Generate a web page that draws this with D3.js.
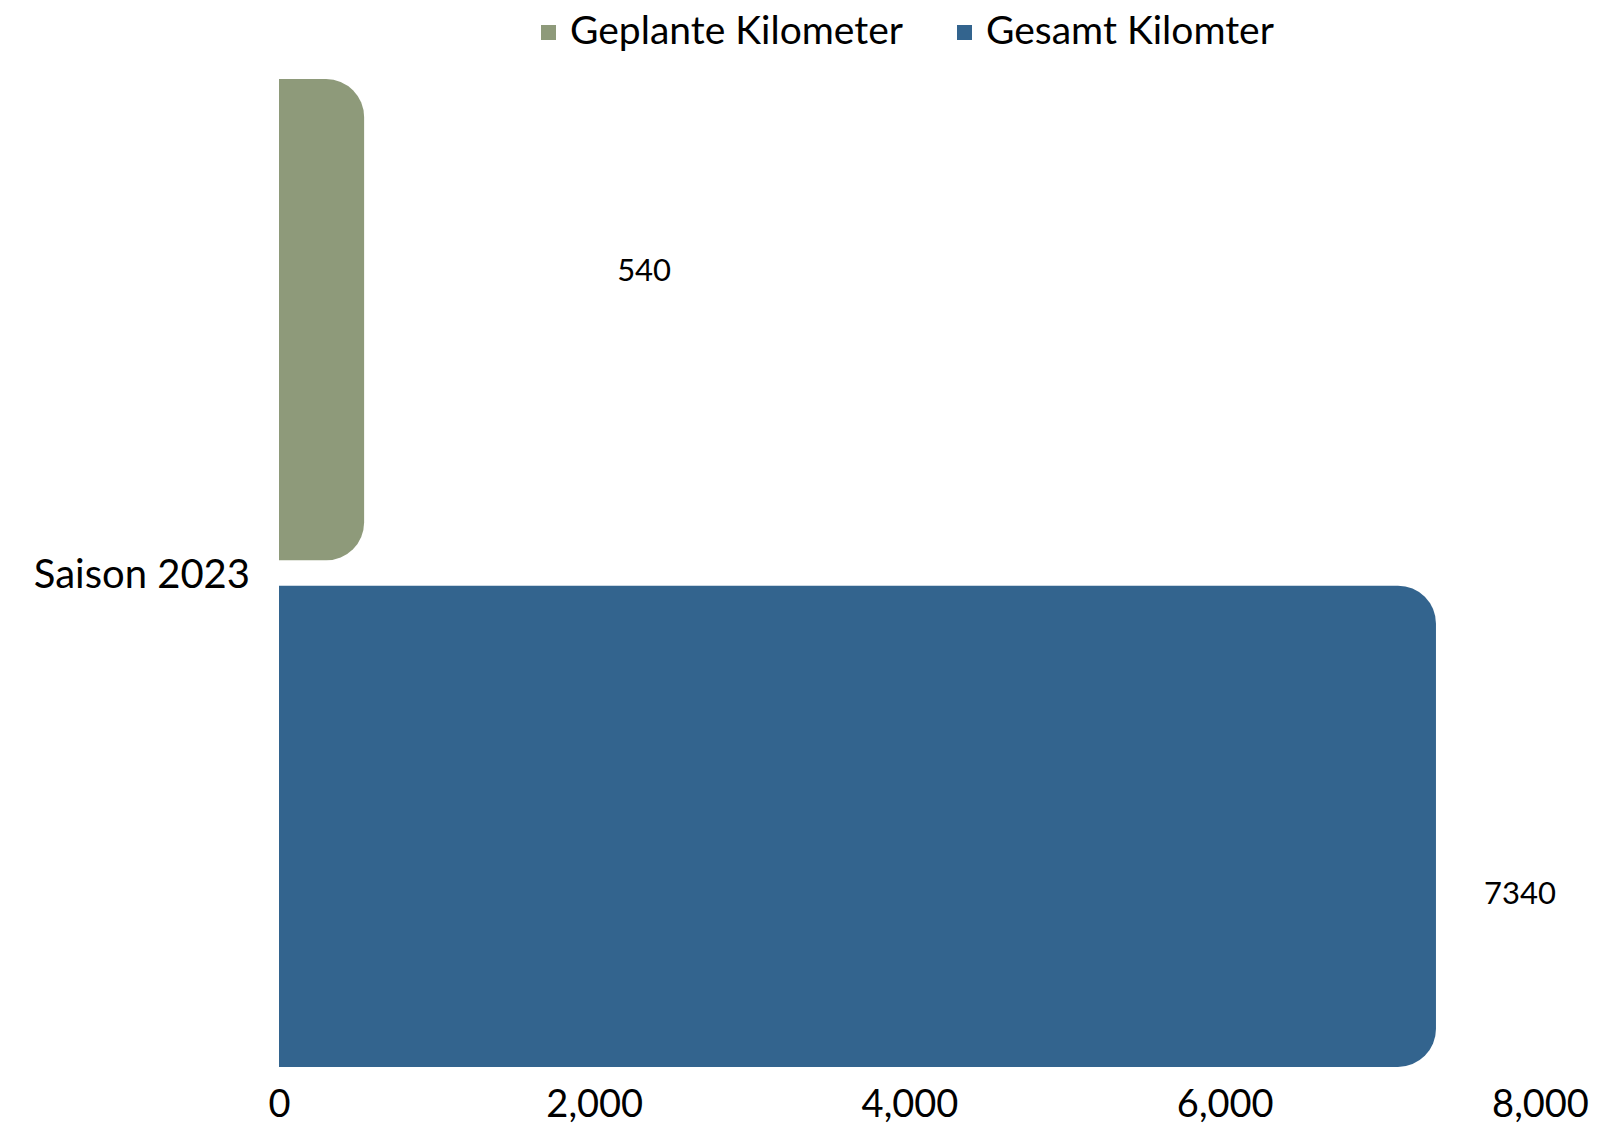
<!DOCTYPE html>
<html>
<head>
<meta charset="utf-8">
<script src="https://cdn.jsdelivr.net/npm/d3@7"></script>
<style>
  html, body { margin: 0; padding: 0; background: #fff; overflow: hidden; }
  svg { display: block; }
  text { font-family: "Lato", "Noto Sans", sans-serif; fill: #000; }
</style>
</head>
<body>
<svg id="chart" width="1614" height="1126"></svg>
<script>
var categories = ["Saison 2023"];
var seriesNames = ["Geplante Kilometer", "Gesamt Kilomter"];
var seriesValues = [540, 7340];
var seriesColors = ["#8e9a7a", "#33648e"];
var xTicks = [0, 2000, 4000, 6000, 8000];

// value labels sit where they were dragged to in the original
var labelDx = [280, 84];
var labelDy = [-39, 78];

var svg = d3.select("#chart");

var x = d3.scaleLinear().domain([0, 8000]).range([279, 1540]);
var y = d3.scaleBand().domain(seriesNames).range([79, 1067]).paddingInner(0.05);

function barPath(x0, x1, y0, h, r) {
  r = Math.min(r, (x1 - x0), h / 2);
  return "M" + x0 + "," + y0 +
    "H" + (x1 - r) +
    "A" + r + "," + r + " 0 0 1 " + x1 + "," + (y0 + r) +
    "V" + (y0 + h - r) +
    "A" + r + "," + r + " 0 0 1 " + (x1 - r) + "," + (y0 + h) +
    "H" + x0 + "Z";
}

svg.selectAll("path.bar")
  .data(seriesValues)
  .enter().append("path")
  .attr("class", "bar")
  .attr("d", function(d, i){ return barPath(x(0), x(d), y(seriesNames[i]), y.bandwidth(), 38); })
  .style("fill", function(d, i){ return seriesColors[i]; });

svg.selectAll("text.val")
  .data(seriesValues)
  .enter().append("text")
  .attr("class", "val")
  .attr("x", function(d, i){ return x(d) + labelDx[i]; })
  .attr("y", function(d, i){ return y(seriesNames[i]) + y.bandwidth() / 2 + labelDy[i]; })
  .attr("text-anchor", "middle")
  .style("font-size", "31px")
  .text(function(d){ return d; });

// x axis, labels only
var axis = svg.append("g")
  .attr("transform", "translate(0,1117)")
  .call(d3.axisBottom(x).tickValues(xTicks).tickSize(0).tickPadding(0).tickFormat(d3.format(",")));
axis.select(".domain").remove();
axis.selectAll("text")
  .attr("dy", 0)
  .attr("y", 0)
  .style("font-family", "Lato, 'Noto Sans', sans-serif")
  .style("font-size", "38px")
  .style("fill", "#000");

// category label
svg.selectAll("text.cat")
  .data(categories)
  .enter().append("text")
  .attr("class", "cat")
  .attr("x", 250)
  .attr("y", 588)
  .attr("text-anchor", "end")
  .style("font-size", "40px")
  .text(function(d){ return d; });

// legend
var legendX = [541, 957];
var leg = svg.selectAll("g.leg")
  .data(seriesNames)
  .enter().append("g")
  .attr("class", "leg")
  .attr("transform", function(d, i){ return "translate(" + legendX[i] + ",25)"; });
leg.append("rect")
  .attr("width", 15).attr("height", 15)
  .style("fill", function(d, i){ return seriesColors[i]; });
leg.append("text")
  .attr("x", 29)
  .attr("y", 19)
  .style("font-size", "39px")
  .text(function(d){ return d; });
</script>
</body>
</html>
